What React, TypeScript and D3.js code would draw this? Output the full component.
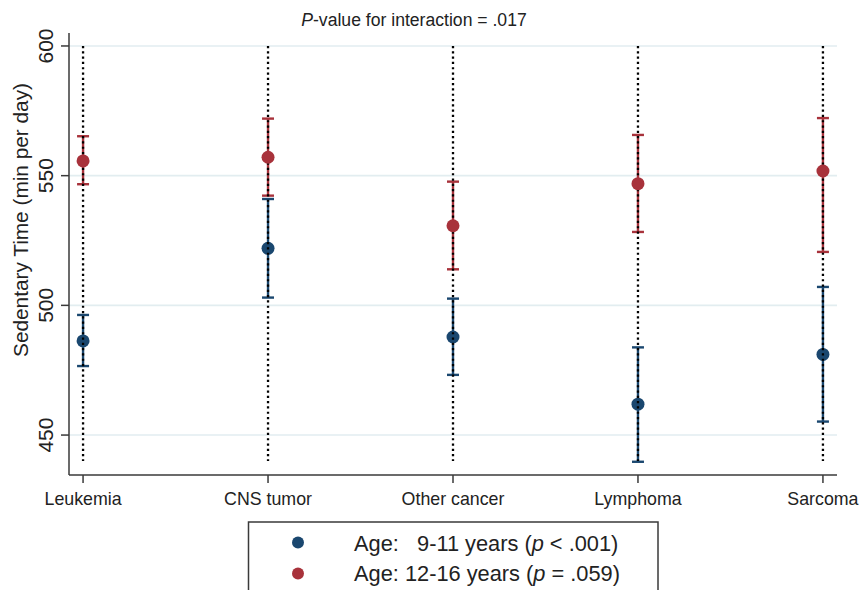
import * as d3 from 'd3'
import { useMemo } from 'react'

const WIDTH = 861
const HEIGHT = 590

const CATEGORIES = ['Leukemia', 'CNS tumor', 'Other cancer', 'Lymphoma', 'Sarcoma']

// 9-11 years
const YOUNG_MEAN = [486.3, 522.0, 487.8, 461.9, 481.1]
const YOUNG_LOW = [476.6, 503.0, 473.2, 439.7, 455.2]
const YOUNG_HIGH = [496.3, 541.0, 502.6, 483.8, 507.1]

// 12-16 years
const OLD_MEAN = [555.7, 557.1, 530.7, 546.9, 551.8]
const OLD_LOW = [546.7, 542.3, 513.9, 528.3, 520.6]
const OLD_HIGH = [565.2, 572.0, 547.7, 565.7, 572.2]

const Y_TICKS = [450, 500, 550, 600]
const REF_LINE_RANGE = [440, 600]

const TITLE = 'P-value for interaction = .017'
const Y_LABEL = 'Sedentary Time (min per day)'
const LEGEND_ITEMS = [
  { label: 'Age:   9-11 years (', p: 'p', rest: ' < .001)' },
  { label: 'Age: 12-16 years (', p: 'p', rest: ' = .059)' },
]

const BLUE = '#1a476f'
const RED = '#a8323b'
const GRID = '#e2edf0'
const AXIS = '#3a3a3a'
const FONT = 'Liberation Sans, Arial, Helvetica, sans-serif'

export default function App() {
  const { x, y } = useMemo(() => {
    const x = d3
      .scalePoint<string>()
      .domain(CATEGORIES)
      .range([69, 837])
      .padding(0.076)
    const y = d3.scaleLinear().domain([434.6, 605]).range([475, 33])
    return { x, y }
  }, [])

  const series = [
    { color: BLUE, mean: YOUNG_MEAN, low: YOUNG_LOW, high: YOUNG_HIGH },
    { color: RED, mean: OLD_MEAN, low: OLD_LOW, high: OLD_HIGH },
  ]

  const capHalf = 6

  const ciBars = (s: (typeof series)[number]) =>
    CATEGORIES.map((c, i) => {
      const cx = x(c) ?? 0
      return (
        <g key={c} stroke={s.color} strokeWidth={2.4}>
          <line x1={cx} x2={cx} y1={y(s.low[i])} y2={y(s.high[i])} />
          <line x1={cx - capHalf} x2={cx + capHalf} y1={y(s.low[i])} y2={y(s.low[i])} />
          <line x1={cx - capHalf} x2={cx + capHalf} y1={y(s.high[i])} y2={y(s.high[i])} />
        </g>
      )
    })

  const markers = (s: (typeof series)[number]) =>
    CATEGORIES.map((c, i) => (
      <circle key={c} cx={x(c)} cy={y(s.mean[i])} r={6.5} fill={s.color} />
    ))

  const [x0, x1] = x.range()
  const [yBottom, yTop] = y.range()

  return (
    <svg
      width={WIDTH}
      height={HEIGHT}
      style={{ position: 'absolute', left: 0, top: 0, background: '#fff' }}
      fontFamily={FONT}
    >
      <rect width={WIDTH} height={HEIGHT} fill="#fff" />

      {/* gridlines */}
      {Y_TICKS.map((t) => (
        <line key={t} x1={x0} x2={x1} y1={y(t)} y2={y(t)} stroke={GRID} strokeWidth={1.6} />
      ))}

      {/* young series first */}
      {ciBars(series[0])}
      {markers(series[0])}
      {ciBars(series[1])}

      {/* dotted reference lines */}
      {CATEGORIES.map((c) => (
        <line
          key={c}
          x1={x(c)}
          x2={x(c)}
          y1={y(REF_LINE_RANGE[1])}
          y2={y(REF_LINE_RANGE[0])}
          stroke="#000"
          strokeWidth={2.3}
          strokeDasharray="2.2 3.1"
        />
      ))}

      {markers(series[1])}

      {/* axes */}
      <line x1={x0} x2={x0} y1={yTop} y2={yBottom} stroke={AXIS} strokeWidth={1.5} />
      <line x1={x0} x2={x1} y1={yBottom} y2={yBottom} stroke={AXIS} strokeWidth={1.5} />

      {Y_TICKS.map((t) => (
        <g key={t}>
          <line x1={x0 - 8} x2={x0} y1={y(t)} y2={y(t)} stroke={AXIS} strokeWidth={1.5} />
          <text
            transform={`translate(53,${y(t)}) rotate(-90)`}
            textAnchor="middle"
            fontSize={21}
            fill="#222"
          >
            {t}
          </text>
        </g>
      ))}

      {CATEGORIES.map((c) => (
        <g key={c}>
          <line x1={x(c)} x2={x(c)} y1={yBottom} y2={yBottom + 8} stroke={AXIS} strokeWidth={1.5} />
          <text x={x(c)} y={505} textAnchor="middle" fontSize={17.8} fill="#222">
            {c}
          </text>
        </g>
      ))}

      {/* y axis title */}
      <text
        transform="translate(28,220) rotate(-90)"
        textAnchor="middle"
        fontSize={20.8}
        fill="#222"
      >
        {Y_LABEL}
      </text>

      {/* title */}
      <text x={414} y={26} textAnchor="middle" fontSize={17.6} fill="#222">
        <tspan fontStyle="italic">{TITLE.slice(0, 1)}</tspan>
        {TITLE.slice(1)}
      </text>

      {/* legend */}
      <rect x={248.5} y={522} width={409.5} height={100} fill="#fff" stroke={AXIS} strokeWidth={1.5} />
      {LEGEND_ITEMS.map((item, i) => (
        <g key={i}>
          <circle cx={298} cy={542.5 + i * 31} r={6} fill={series[i].color} />
          <text
            x={354}
            y={551 + i * 30}
            fontSize={21.8}
            fill="#222"
            style={{ whiteSpace: 'pre' }}
          >
            {item.label}
            <tspan fontStyle="italic">{item.p}</tspan>
            {item.rest}
          </text>
        </g>
      ))}
    </svg>
  )
}
